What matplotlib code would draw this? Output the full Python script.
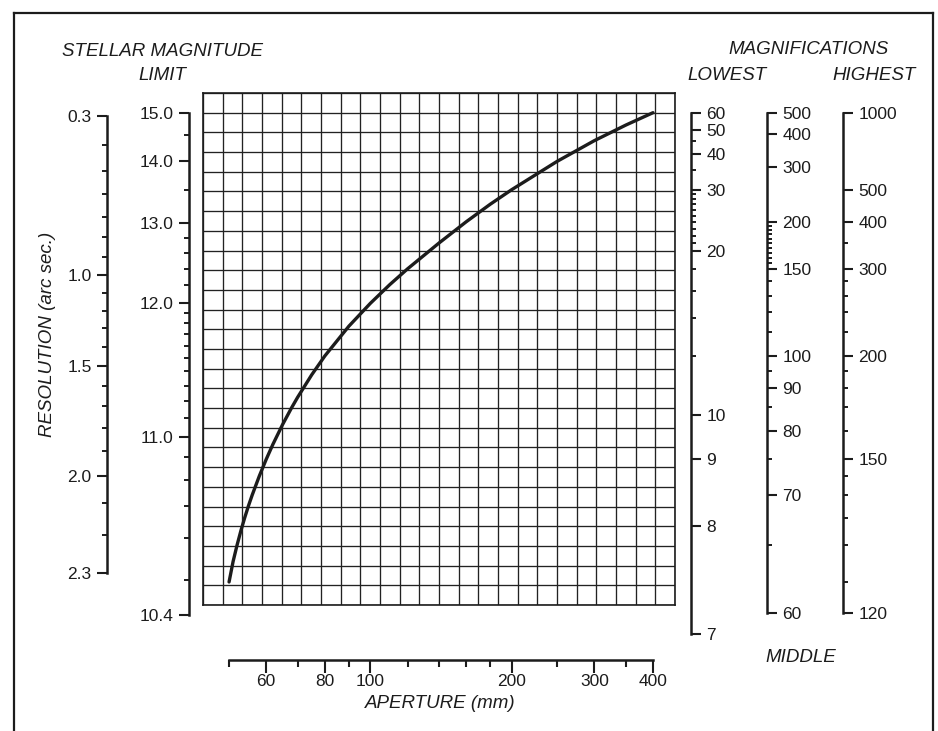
import numpy as np
import matplotlib
matplotlib.use("Agg")
import matplotlib.pyplot as plt
from matplotlib.lines import Line2D
from matplotlib.ticker import NullFormatter

plt.rcParams['font.family'] = ['Liberation Sans', 'DejaVu Sans']

INK = '#1c1c1c'

# curve: aperture (mm) against height in grid rows
aperture_mm = [50, 51, 52, 53, 54, 55, 56, 58, 60, 62, 65, 68, 70, 75, 80,
               90, 100, 110, 120, 140, 160, 180, 200, 250, 300, 350, 400]
curve_rows = [1.17, 2.21, 3.04, 3.78, 4.44, 5.04, 5.58, 6.55, 7.40, 8.16,
              9.16, 10.03, 10.55, 11.69, 12.65, 14.16, 15.32, 16.27, 17.07,
              18.38, 19.46, 20.35, 21.09, 22.53, 23.58, 24.37, 25.0]

# aperture scale
aperture_major = [60, 80, 100, 200, 300, 400]
aperture_minor = [50, 70, 90, 120, 140, 160, 180, 250, 350]

# resolution (arc sec.)
res_major = [0.3, 1.0, 1.5, 2.0, 2.3]
res_minor = [0.4, 0.5, 0.6, 0.7, 0.8, 0.9, 1.1, 1.2, 1.3, 1.4,
             1.6, 1.7, 1.8, 1.9, 2.1, 2.2]

# stellar magnitude limit
mag_major = [15.0, 14.0, 13.0, 12.0, 11.0, 10.4]
mag_minor = [14.5, 13.5, 12.8, 12.6, 12.4, 12.2, 11.9, 11.8, 11.7, 11.6,
             11.5, 11.4, 11.3, 11.2, 11.1, 10.9, 10.8, 10.7, 10.6, 10.5]

# magnifications
low_major = [60, 50, 40, 30, 20, 10, 9, 8, 7]
low_minor = [45, 35, 29, 28, 27, 26, 25, 24, 23, 22, 21, 18, 16, 14, 12]
mid_major = [500, 400, 300, 200, 150, 100, 90, 80, 70, 60]
mid_minor = [195, 190, 185, 180, 175, 170, 165, 160, 155,
             140, 130, 120, 110, 95, 85, 75, 65]
high_major = [1000, 500, 400, 300, 200, 150, 120]
high_minor = [350, 280, 260, 240, 220, 190, 180, 170, 160,
              145, 140, 135, 130, 125]

# each side scale is a function of the aperture
to_aperture = {
    'res': lambda r: 116.0 / r,
    'mag': lambda m: 10 ** ((m - 2.0) / 5.0),
    'low': lambda v: v / 0.15,
    'mid': lambda v: v / 1.25,
    'high': lambda v: v / 2.5,
}


def rows_at(d):
    # height on the grid for a given aperture, taken from the curve
    lx = np.log10(aperture_mm)
    ld = np.log10(np.asarray(d, float))
    r = np.interp(ld, lx, curve_rows)
    slope = np.polyfit(lx[:7], curve_rows[:7], 1)[0]
    return np.where(ld < lx[0], curve_rows[0] + (ld - lx[0]) * slope, r)


W, H = 938, 731
ROW = 512 / 26


def fx(x):
    return x / W


def fy(y):
    return 1 - y / H


fig = plt.figure(figsize=(W / 100, H / 100), dpi=100)
fig.patch.set_facecolor('white')

# frame
for xs, ys in [([14, 14], [13, 740]), ([14, 933], [13, 13]), ([933, 933], [13, 740])]:
    fig.add_artist(Line2D([fx(v) for v in xs], [fy(v) for v in ys],
                          color=INK, lw=1.6))

# grid with the curve
xl = (44.0, 445.6)
ax = fig.add_axes([fx(203), fy(605), (675 - 203) / W, (605 - 93) / H])
ax.set_xscale('log')
ax.set_xlim(*xl)
ax.set_ylim(0, 26)
ax.set_xticks(np.geomspace(xl[0], xl[1], 25))
ax.set_xticks([], minor=True)
ax.set_yticks(np.arange(27))
ax.tick_params(which='both', length=0, labelbottom=False, labelleft=False)
ax.grid(True, color='#222222', lw=0.95)
for s in ax.spines.values():
    s.set_linewidth(1.2)
    s.set_color(INK)
ax.plot(aperture_mm, curve_rows, color=INK, lw=2.4,
        solid_capstyle='round', solid_joinstyle='round', zorder=3)

# aperture scale
axa = fig.add_axes([fx(203), fy(660), (675 - 203) / W, 0.0001])
axa.set_xscale('log')
axa.set_xlim(*xl)
axa.patch.set_visible(False)
for k in ['top', 'left', 'right']:
    axa.spines[k].set_visible(False)
axa.spines['bottom'].set_bounds(50, 400)
axa.spines['bottom'].set_linewidth(1.8)
axa.spines['bottom'].set_color(INK)
axa.set_yticks([])
axa.set_xticks(aperture_major, labels=[str(v) for v in aperture_major])
axa.set_xticks(aperture_minor, minor=True)
axa.xaxis.set_minor_formatter(NullFormatter())
axa.tick_params(axis='x', which='major', direction='out', length=9.5,
                width=1.5, pad=0.5, labelsize=12.5, colors=INK)
axa.tick_params(axis='x', which='minor', direction='out', length=5,
                width=1.5, colors=INK)
fig.text(fx(440), fy(703), 'APERTURE (mm)', ha='center', va='center',
         style='italic', size=13.5, color=INK)


def scale(x_px, key, major, minor, side, fmt):
    bot = 605 + 3 * ROW
    top = 605 - 26.5 * ROW
    a = fig.add_axes([fx(x_px), fy(bot), 0.0002, (bot - top) / H])
    a.set_ylim(-3, 26.5)
    a.patch.set_visible(False)
    for s in a.spines.values():
        s.set_visible(False)
    conv = to_aperture[key]
    ymaj = rows_at([conv(v) for v in major])
    ymin = rows_at([conv(v) for v in minor])
    sp = a.spines[side]
    sp.set_visible(True)
    sp.set_bounds(ymaj.min(), ymaj.max())
    sp.set_linewidth(1.8)
    sp.set_color(INK)
    a.set_xticks([])
    a.set_yticks(ymaj, labels=[fmt.format(v) for v in major])
    a.set_yticks(ymin, minor=True)
    if side == 'right':
        a.yaxis.tick_right()
    a.tick_params(axis='y', which='major', length=7.5, width=1.5,
                  pad=3.5, labelsize=12.5, colors=INK)
    a.tick_params(axis='y', which='minor', length=3.8, width=1.4, colors=INK)
    return a


scale(107, 'res', res_major, res_minor, 'left', '{:.1f}')
scale(189, 'mag', mag_major, mag_minor, 'left', '{:.1f}')
scale(691, 'low', low_major, low_minor, 'right', '{:g}')
scale(767, 'mid', mid_major, mid_minor, 'right', '{:g}')
scale(843, 'high', high_major, high_minor, 'right', '{:g}')

# headings
head = dict(style='italic', size=13.5, color=INK, va='center', ha='left')
fig.text(fx(62), fy(52), 'STELLAR MAGNITUDE', **head)
fig.text(fx(138), fy(75), 'LIMIT', **head)
fig.text(fx(728), fy(50), 'MAGNIFICATIONS', **head)
fig.text(fx(687), fy(75), 'LOWEST', **head)
fig.text(fx(832), fy(75), 'HIGHEST', **head)
fig.text(fx(765), fy(657), 'MIDDLE', **head)
fig.text(fx(47), fy(334), 'RESOLUTION (arc sec.)', rotation=90,
         ha='center', va='center', style='italic', size=13.5, color=INK)

fig.savefig('out.png', dpi=100, facecolor='white')
